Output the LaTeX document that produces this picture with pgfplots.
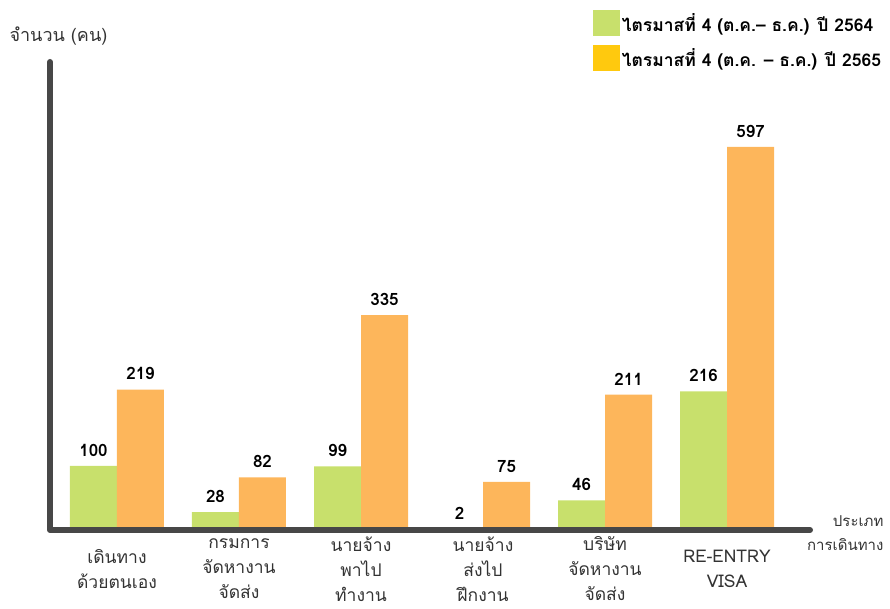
\documentclass[border=0pt]{standalone}
\usepackage{fontspec}
\setmainfont[Script=Thai]{Loma}
\usepackage{pgfplots}
\pgfplotsset{compat=1.18}
\definecolor{barGreen}{HTML}{C8E06C}
\definecolor{barOrange}{HTML}{FDB65B}
\definecolor{legYellow}{HTML}{FFC90E}
\definecolor{axisGrey}{HTML}{474747}
\definecolor{txtGrey}{HTML}{333333}
\begin{document}
\begin{tikzpicture}
\begin{axis}[
    scale only axis,
    width=760pt, height=468pt,
    ybar=0pt, bar width=47pt,
    xmin=-0.549, xmax=5.68,
    ymin=0, ymax=729.5,
    axis line style={draw=none},
    major tick length=0pt,
    ytick=\empty,
    xtick={0,...,5},
    xticklabels={{เดินทาง\\ด้วยตนเอง},{กรมการ\\จัดหางาน\\จัดส่ง},{นายจ้าง\\พาไป\\ทำงาน},{นายจ้าง\\ส่งไป\\ฝึกงาน},{บริษัท\\จัดหางาน\\จัดส่ง},{RE-ENTRY\\VISA}},
    xticklabel style={anchor=center, yshift=-39pt, align=center, text=txtGrey,
        font=\fontsize{17.5}{25}\selectfont, inner sep=0pt},
    nodes near coords,
    /pgf/number format/assume math mode=true,
    every node near coord/.append style={font=\fontsize{17}{19}\selectfont\bfseries, text=black, yshift=6pt},
    legend style={at={(rel axis cs:0.71,1.115)}, anchor=north west, draw=none, fill=none,
        font=\fontsize{17.5}{19}\selectfont\bfseries, row sep=9pt,
        /tikz/every even column/.append style={column sep=1pt}},
    legend cell align=left,
    clip=false,
]
\addplot[fill=barGreen, draw=none,
    legend image code/.code={\fill[barGreen] (0pt,-13pt) rectangle (27pt,13pt);}]
    coordinates {(0,100) (1,28) (2,99) (3,2) (4,46) (5,216)};
\addlegendentry{ไตรมาสที่ 4 (ต.ค.– ธ.ค.) ปี 2564}
\addplot[fill=barOrange, draw=none,
    legend image code/.code={\fill[legYellow] (0pt,-13pt) rectangle (27pt,13pt);}]
    coordinates {(0,219) (1,82) (2,335) (3,75) (4,211) (5,597)};
\addlegendentry{ไตรมาสที่ 4 (ต.ค. – ธ.ค.) ปี 2565}
\draw[line width=6pt, axisGrey, line cap=round, line join=round]
    (rel axis cs:0,1) -- (rel axis cs:0,0) -- (rel axis cs:1,0);
\node[anchor=west, text=txtGrey, font=\fontsize{18}{20}\selectfont]
    at ([xshift=-44pt]rel axis cs:0,1.055) {จำนวน (คน)};
\node[anchor=north east, align=right, text=txtGrey, font=\fontsize{15}{24}\selectfont]
    at ([xshift=77pt,yshift=18pt]rel axis cs:1,0) {ประเภท\\การเดินทาง};
\coordinate (o) at (rel axis cs:0,0);
\end{axis}
\path (o) ++(-50pt,-78pt) rectangle ++(890pt,608pt);
\end{tikzpicture}
\end{document}
